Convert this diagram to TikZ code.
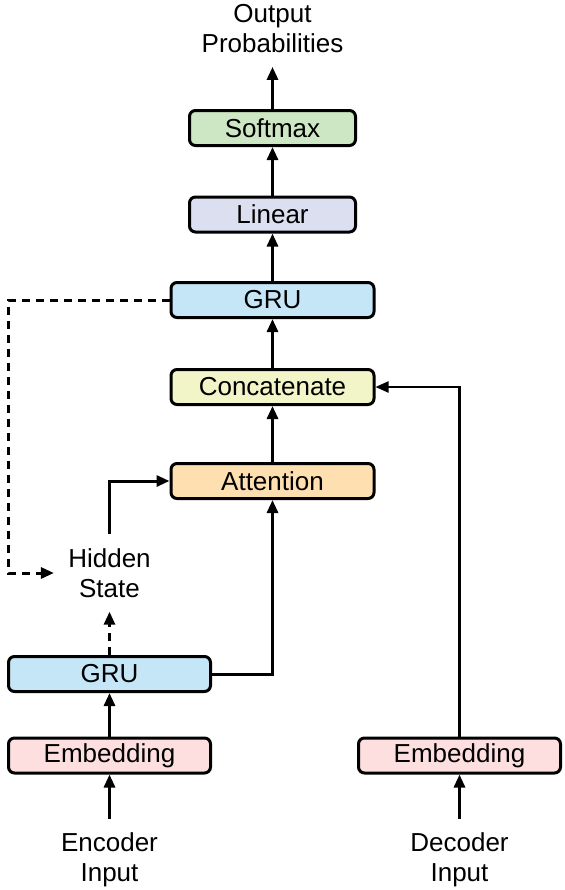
\documentclass[tikz,border=0pt]{standalone}
\usepackage{fontspec}
\setmainfont{Liberation Sans}
\usetikzlibrary{arrows.meta,positioning}

\begin{document}
\begin{tikzpicture}[x=0.5pt,y=-0.5pt,
  blk/.style={draw=black,line width=1.5pt,rounded corners=3pt,minimum height=17.5pt,inner sep=0pt,font=\fontsize{13}{14.75}\selectfont},
  lbl/.style={align=center,inner sep=7pt,font=\fontsize{13}{14.75}\selectfont},
  flow/.style={line width=1.5pt,>={Triangle[length=6.5pt,width=5.5pt]},->},
  thinflow/.style={line width=1.1pt,>={Triangle[length=6.5pt,width=5.5pt]},->},
  dashflow/.style={flow,dash pattern=on 4pt off 3pt}]

% ------------------------------------------------ seq2seq theme colors
\definecolor{ss_green}{RGB}{205,230,195}   %#CDE6C3
\definecolor{ss_lilac}{RGB}{220,223,240}   %#DCDFF0
\definecolor{ss_blue}{RGB}{196,230,246}    %#C4E6F6
\definecolor{ss_lime}{RGB}{242,245,200}    %#F2F5C8
\definecolor{ss_orange}{RGB}{254,223,176}  %#FEDFB0
\definecolor{ss_pink}{RGB}{254,223,224}    %#FEDFE0

\useasboundingbox (0,0) rectangle (565,890);

% decoder stack
\node[blk,fill=ss_green,minimum width=83pt]    (softmax) at (272.5,128) {Softmax};
\node[blk,fill=ss_lilac,minimum width=83pt]    (linear)  at (272.5,214.5) {Linear};
\node[blk,fill=ss_blue,minimum width=101.5pt]  (gru_dec) at (272.5,300) {GRU};
\node[blk,fill=ss_lime,minimum width=101.5pt]  (concat)  at (272.5,387) {Concatenate};
\node[blk,fill=ss_orange,minimum width=101.5pt](attn)    at (272.5,481) {Attention};

% encoder stack
\node[blk,fill=ss_blue,minimum width=101pt]    (gru_enc) at (109.5,674) {GRU};
\node[blk,fill=ss_pink,minimum width=101pt]    (enc_emb) at (109.5,755.5) {Embedding};
\node[blk,fill=ss_pink,minimum width=101pt]    (dec_emb) at (459.5,755.5) {Embedding};

\node[lbl] (out)    at (272.5,28.5) {Output\\Probabilities};
\node[lbl] (hidden) at (109.5,573)  {Hidden\\State};
\node[lbl] (enc_in) at (109.5,860)  {Encoder\\Input};
\node[lbl] (dec_in) at (459.5,860)  {Decoder\\Input};

\draw[flow] (enc_in) -- (enc_emb);
\draw[flow] (enc_emb) -- (gru_enc);
\draw[dashflow] (gru_enc) -- (hidden);
\draw[flow] (hidden.north) |- (attn.west);
\draw[flow] (gru_enc.east) -| (attn.south);

\draw[flow] (attn) -- (concat);
\draw[flow] (concat) -- (gru_dec);
\draw[flow] (gru_dec) -- (linear);
\draw[flow] (linear) -- (softmax);
\draw[flow] (softmax) -- (out);

\draw[flow] (dec_in) -- (dec_emb);
\draw[thinflow] (dec_emb.north) |- (concat.east);

\draw[dashflow] (gru_dec.west) -- ++(-161,0) |- (hidden.west);

\end{tikzpicture}
\end{document}
